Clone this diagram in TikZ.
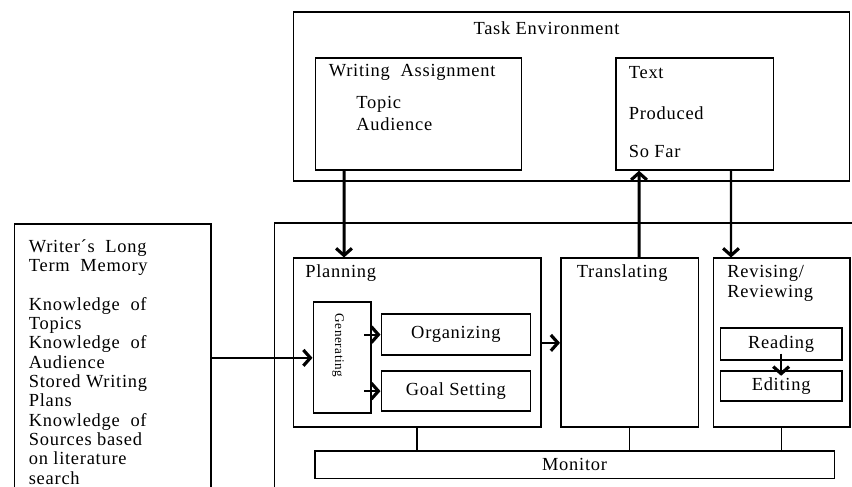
\documentclass[tikz,border=0pt]{standalone}
\usepackage{fontspec}
\setmainfont{Liberation Serif}[LetterSpace=4]
\usetikzlibrary{arrows.meta}
\begin{document}
\begin{tikzpicture}[
  box/.style={draw,line width=1pt,anchor=north west,inner sep=0pt,font=\fontsize{10.5}{11}\selectfont},
  lbl/.style={anchor=west,inner sep=0pt,font=\fontsize{10.5}{11}\selectfont},
  arr/.style={-{Straight Barb[length=4pt,width=9pt,line width=1.8pt]},line width=1.7pt},
  link/.style={line width=0.8pt}]
\useasboundingbox (0,0) rectangle (17.04,-9.74);
\clip (0,0) rectangle (17.04,-9.74);

\node[box,minimum width=11.12cm,minimum height=3.37cm] (task) at (5.85,-0.23) {};
\node[lbl,anchor=center] (tasklbl) at (10.93,-0.56) {Task Environment};
\node[box,minimum width=4.12cm,minimum height=2.23cm] (wa) at (6.29,-1.15) {};
\node[lbl] (walbl) at (6.57,-1.45) {Writing\ \ Assignment};
\node[lbl] (topic) at (7.12,-2.08) {Topic};
\node[lbl] (aud) at (7.12,-2.49) {Audience};
\node[box,minimum width=3.15cm,minimum height=2.23cm] (text) at (12.30,-1.15) {};
\node[lbl] (textlbl) at (12.57,-1.45) {Text};
\node[lbl] (prod) at (12.57,-2.27) {Produced};
\node[lbl] (sofar) at (12.57,-3.03) {So Far};

\node[box,minimum width=3.93cm,minimum height=6cm] (ltm) at (0.27,-4.47) {};
\node[lbl,anchor=north west,align=left] (ltmlbl) at (0.57,-4.78) {Writer´s\ \ Long\\Term\ \ Memory\\[11pt]Knowledge\ \ of\\Topics\\Knowledge\ \ of\\Audience\\Stored Writing\\Plans\\Knowledge\ \ of\\Sources based\\on literature\\search};

\node[box,minimum width=12cm,minimum height=6cm] (proc) at (5.47,-4.45) {};
\node[box,minimum width=4.95cm,minimum height=3.38cm] (plan) at (5.85,-5.15) {};
\node[lbl] (planlbl) at (6.10,-5.46) {Planning};
\node[box,minimum width=1.15cm,minimum height=2.22cm] (gen) at (6.25,-6.03) {};
\node[font=\fontsize{7.5}{9}\selectfont,rotate=-90] (genlbl) at (6.76,-6.91) {Generating};
\node[box,minimum width=2.98cm,minimum height=0.81cm] (org) at (7.61,-6.27) {Organizing};
\node[box,minimum width=2.98cm,minimum height=0.79cm] (goal) at (7.61,-7.41) {Goal Setting};
\node[box,minimum width=2.75cm,minimum height=3.38cm] (trans) at (11.20,-5.15) {};
\node[lbl] (translbl) at (11.53,-5.46) {Translating};
\node[box,minimum width=2.73cm,minimum height=3.38cm] (rev) at (14.25,-5.15) {};
\node[lbl] (revlbl) at (14.54,-5.46) {Revising/};
\node[lbl] (reviewlbl) at (14.54,-5.86) {Reviewing};
\node[box,minimum width=2.43cm,minimum height=0.63cm] (read) at (14.39,-6.55) {Reading};
\node[box,minimum width=2.43cm,minimum height=0.60cm] (edit) at (14.39,-7.41) {Editing};
\node[box,line width=0.9pt,minimum width=10.39cm,minimum height=0.54cm] (mon) at (6.28,-9.01) {Monitor};

\draw[arr] ([xshift=.59cm]wa.south west) -- ([xshift=1.03cm]plan.north west);
\draw[arr] ([xshift=1.58cm]trans.north west) -- ([xshift=.48cm]text.south west);
\draw[arr,line width=1.2pt] ([xshift=2.32cm]text.south west) -- ([xshift=.37cm]rev.north west);
\draw[arr,line width=1.2pt] (ltm.east |- gen.west) -- (gen.west);
\draw[arr,line width=1.2pt] (gen.east |- org.west) ++(-.15,0) -- (org.west);
\draw[arr,line width=1.2pt] (gen.east |- goal.west) ++(-.15,0) -- (goal.west);
\draw[arr,line width=1.2pt] (plan.east) -- (trans.west);
\draw[arr,line width=1.5pt] ([yshift=4pt]read.south) -- ([yshift=-3pt]edit.north);
\draw[link] (plan.south) -- (plan.south |- mon.north);
\draw[link] (trans.south) -- (trans.south |- mon.north);
\draw[link] (rev.south) -- (rev.south |- mon.north);
\end{tikzpicture}
\end{document}
